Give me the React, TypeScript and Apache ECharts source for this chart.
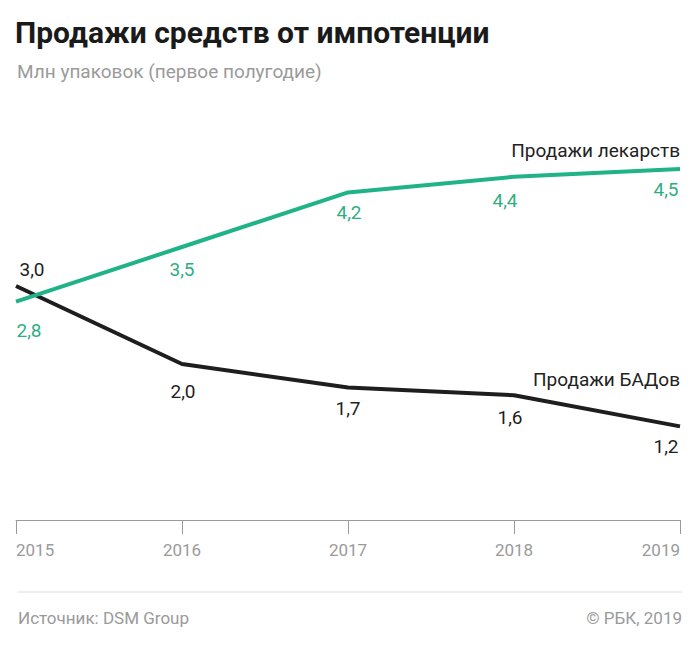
import React, { useEffect, useRef } from "react";
import * as echarts from "echarts";

const years = ["2015", "2016", "2017", "2018", "2019"];
const drugSales = [2.8, 3.5, 4.2, 4.4, 4.5];
const supplementSales = [3.0, 2.0, 1.7, 1.6, 1.2];
const drugName = "Продажи лекарств";
const supplementName = "Продажи БАДов";

const GREEN = "#1fb387";
const GREEN_TEXT = "#2fae84";
const DARK = "#1e1e1e";
const GREY = "#9a9a9a";
const FONT = "Roboto, 'Liberation Sans', Arial, sans-serif";

// label offsets (layout only) relative to each point
const drugLabelOffsets = [[13, 29], [0, 22], [1, 20], [-9, 24], [-14, 20]];
const supLabelOffsets = [[16, -17], [1, 27], [0, 21], [-4, 22], [-14, 20]];

const fmt = (v: number) => v.toFixed(1).replace(".", ",");

export default function App() {
  const ref = useRef<HTMLDivElement>(null);
  useEffect(() => {
    if (!ref.current) return;
    const chart = echarts.init(ref.current, null, { renderer: "svg" });
    const mk = (vals: number[], offs: number[][], color: string) =>
      vals.map((v, i) => ({
        value: v,
        label: {
          show: true,
          position: "inside",
          offset: offs[i],
          formatter: () => fmt(v),
          color,
          fontSize: 19,
          fontFamily: FONT,
        },
      }));
    chart.setOption({
      animation: false,
      backgroundColor: "#ffffff",
      grid: { left: 16, right: 20, top: 130, bottom: 128, containLabel: false },
      xAxis: {
        type: "category",
        data: years,
        boundaryGap: false,
        axisLine: { show: true, lineStyle: { color: GREY, width: 1 } },
        axisTick: { show: true, length: 14, lineStyle: { color: GREY } },
        axisLabel: {
          color: GREY,
          fontSize: 17,
          fontFamily: FONT,
          margin: 21,
          alignMinLabel: "left",
          alignMaxLabel: "right",
        },
      },
      yAxis: {
        type: "value",
        min: 0,
        max: 5,
        show: false,
        splitLine: { show: false },
      },
      series: [
        {
          name: drugName,
          type: "line",
          data: mk(drugSales, drugLabelOffsets, GREEN_TEXT),
          symbol: "circle",
          symbolSize: 0.1,
          lineStyle: { color: GREEN, width: 4 },
          itemStyle: { color: GREEN },
          z: 3,
        },
        {
          name: supplementName,
          type: "line",
          data: mk(supplementSales, supLabelOffsets, DARK),
          symbol: "circle",
          symbolSize: 0.1,
          lineStyle: { color: DARK, width: 4 },
          itemStyle: { color: DARK },
          z: 2,
        },
      ],
      graphic: [
        {
          type: "text",
          left: 15,
          top: 17,
          style: {
            text: "Продажи средств от импотенции",
            fontSize: 30,
            fontWeight: "bold",
            fill: "#1a1a1a",
            fontFamily: FONT,
          },
        },
        {
          type: "text",
          left: 17,
          top: 62,
          style: {
            text: "Млн упаковок (первое полугодие)",
            fontSize: 19,
            fill: GREY,
            fontFamily: FONT,
          },
        },
        {
          type: "text",
          right: 20,
          top: 141,
          style: { text: drugName, fontSize: 19, fill: "#222", fontFamily: FONT },
        },
        {
          type: "text",
          right: 20,
          top: 370,
          style: { text: supplementName, fontSize: 19, fill: "#222", fontFamily: FONT },
        },
        {
          type: "line",
          shape: { x1: 18, y1: 592, x2: 682, y2: 592 },
          style: { stroke: "#dcdcdc", lineWidth: 1 },
        },
        {
          type: "text",
          left: 18,
          top: 609,
          style: { text: "Источник: DSM Group", fontSize: 17, fill: GREY, fontFamily: FONT },
        },
        {
          type: "text",
          right: 18,
          top: 609,
          style: { text: "© РБК, 2019", fontSize: 17, fill: GREY, fontFamily: FONT },
        },
      ],
    });
    return () => chart.dispose();
  }, []);
  return <div ref={ref} style={{ width: 700, height: 648, position: "absolute", left: 0, top: 0 }} />;
}
